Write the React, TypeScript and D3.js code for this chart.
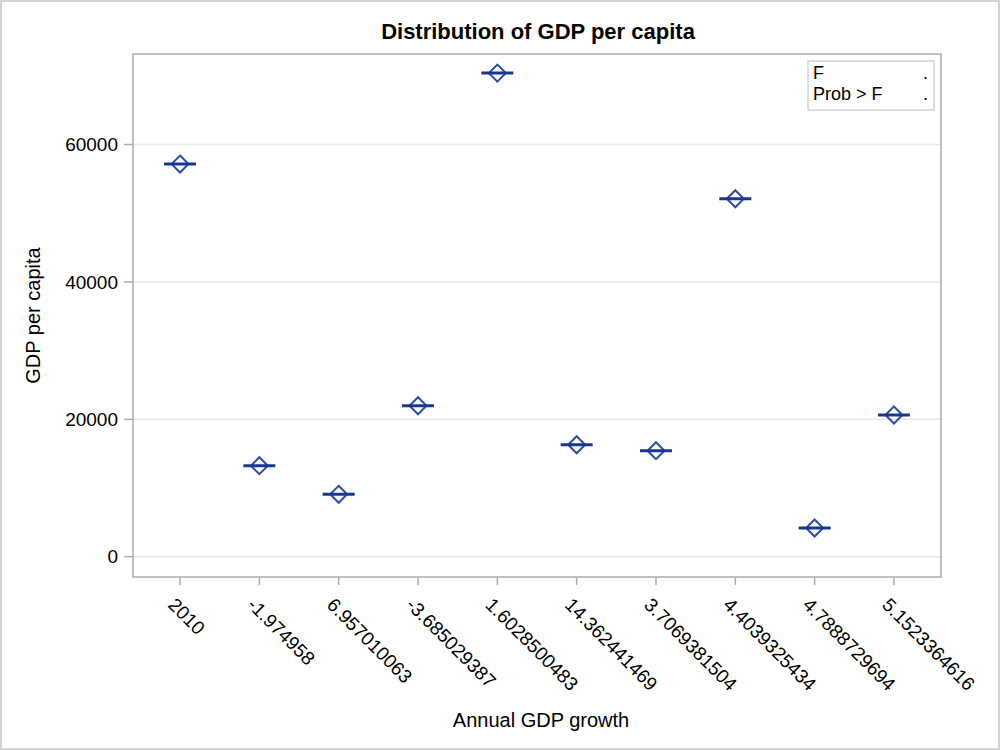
import React from "react";
import * as d3 from "d3";

const categories: string[] = [
  "2010",
  "-1.974958",
  "6.957010063",
  "-3.685029387",
  "1.6028500483",
  "14.362441469",
  "3.7069381504",
  "4.4039325434",
  "4.7888729694",
  "5.1523364616",
];
const gdpPerCapita: number[] = [57160, 13250, 9080, 21980, 70400, 16300, 15430, 52110, 4180, 20630];
const yTicks: number[] = [0, 20000, 40000, 60000];
const legendRows: { label: string; value: string }[] = [
  { label: "F", value: "." },
  { label: "Prob > F", value: "." },
];

const W = 1000;
const H = 750;
const frame = { left: 133, right: 941, top: 54, bottom: 577 };
const FONT = "'Liberation Sans', Arial, sans-serif";

export default function App() {
  const x = d3
    .scalePoint<string>()
    .domain(categories)
    .range([frame.left, frame.right])
    .padding(0.593);
  const y = d3.scaleLinear().domain([-2955, 73180]).range([frame.bottom, frame.top]);

  const dHalf = 8.5;
  const lineHalf = 16;

  return (
    <svg
      width={W}
      height={H}
      style={{ position: "absolute", left: 0, top: 0, background: "#fff" }}
      fontFamily={FONT}
    >
      <rect x={1} y={1} width={W - 2} height={H - 2} fill="#fff" stroke="#d2d2d2" strokeWidth={2} />
      <text x={538} y={39} textAnchor="middle" fontSize={22} fontWeight="bold" fill="#000">
        Distribution of GDP per capita
      </text>

      {/* gridlines */}
      {yTicks.map((t) => (
        <line
          key={"g" + t}
          x1={frame.left}
          x2={frame.right}
          y1={y(t)}
          y2={y(t)}
          stroke="#e6e6e6"
          strokeWidth={1.5}
        />
      ))}

      {/* frame */}
      <rect
        x={frame.left}
        y={frame.top}
        width={frame.right - frame.left}
        height={frame.bottom - frame.top}
        fill="none"
        stroke="#a9adb1"
        strokeWidth={1.5}
      />

      {/* y axis */}
      {yTicks.map((t) => (
        <g key={"y" + t}>
          <line x1={frame.left - 9} x2={frame.left} y1={y(t)} y2={y(t)} stroke="#a9adb1" strokeWidth={1.5} />
          <text x={118} y={y(t)} dy="0.35em" textAnchor="end" fontSize={19} fill="#000">
            {t}
          </text>
        </g>
      ))}
      <text
        transform={`translate(40, ${(frame.top + frame.bottom) / 2}) rotate(-90)`}
        textAnchor="middle"
        fontSize={20}
        fill="#000"
      >
        GDP per capita
      </text>

      {/* x axis */}
      {categories.map((c) => {
        const cx = x(c) as number;
        return (
          <g key={"x" + c}>
            <line x1={cx} x2={cx} y1={frame.bottom} y2={frame.bottom + 8} stroke="#a9adb1" strokeWidth={1.5} />
            <text
              transform={`translate(${cx - 13}, ${frame.bottom + 29}) rotate(45)`}
              textAnchor="start"
              fontSize={19}
              fill="#000"
            >
              {c}
            </text>
          </g>
        );
      })}
      <text x={541} y={727} textAnchor="middle" fontSize={20} fill="#000">
        Annual GDP growth
      </text>

      {/* markers */}
      {categories.map((c, i) => {
        const cx = x(c) as number;
        const cy = y(gdpPerCapita[i]);
        return (
          <g key={"m" + c}>
            <path
              d={`M${cx},${cy - dHalf}L${cx + dHalf},${cy}L${cx},${cy + dHalf}L${cx - dHalf},${cy}Z`}
              fill="none"
              stroke="#2a4cb0"
              strokeWidth={2}
            />
            <line x1={cx - lineHalf} x2={cx + lineHalf} y1={cy} y2={cy} stroke="#1a378f" strokeWidth={3} />
          </g>
        );
      })}

      {/* legend inset */}
      <rect x={808} y={61} width={126} height={49} fill="#fff" stroke="#c8c8c8" strokeWidth={1.2} />
      {legendRows.map((r, i) => (
        <g key={"l" + i}>
          <text x={813} y={79 + i * 21} fontSize={18} fill="#000">
            {r.label}
          </text>
          <text x={928} y={79 + i * 21} textAnchor="end" fontSize={18} fill="#000">
            {r.value}
          </text>
        </g>
      ))}
    </svg>
  );
}
